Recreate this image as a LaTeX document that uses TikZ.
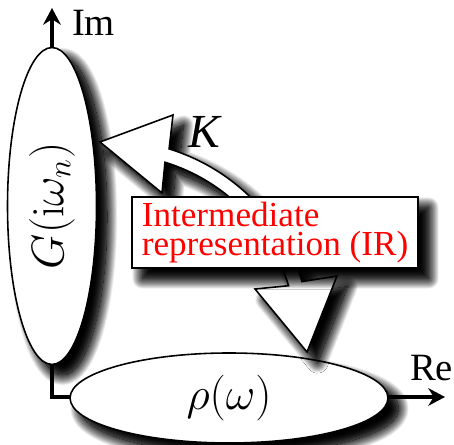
\RequirePackage{fix-cm}
\documentclass[tikz,border=0pt]{standalone}
\usepackage[no-math]{fontspec}
\setmainfont{Liberation Serif}
\usetikzlibrary{arrows.meta, calc, shapes.geometric, shadows.blur}
\tikzset{
    % Soft drop shadow used by every white shape (two layers for a darker core)
    soft shadow/.style={
        blur shadow={shadow xshift=7pt, shadow yshift=-7pt,
            shadow blur radius=8pt, shadow blur steps=40, shadow opacity=100},
        blur shadow={shadow xshift=6pt, shadow yshift=-6pt,
            shadow blur radius=6pt, shadow blur steps=30, shadow opacity=100}},
    % Function domains - white ellipses
    domain oval/.style={ellipse, draw=black, line width=0.9pt, fill=white, soft shadow,
        inner sep=0pt, font=\fontsize{26}{30}\selectfont},
    % Axes of the complex plane
    axis/.style={line width=2pt, line join=miter, {Stealth[length=9.5pt, width=10pt]}-{Stealth[length=9.5pt, width=10pt]}},
    % Axis labels
    axis label/.style={inner sep=0pt, font=\fontsize{22}{26}\selectfont},
    % Big curved transformation arrow
    big arrow/.style={draw=black, line width=0.9pt, line join=miter, fill=white, soft shadow},
    % IR box
    ir box/.style={rectangle, draw=black, line width=0.9pt, fill=white, soft shadow,
        minimum width=5.72cm, minimum height=1.42cm, inner sep=0pt, align=left,
        text=red, font=\fontsize{20}{17}\selectfont}
}

\begin{document}
\begin{tikzpicture}[x=0.02cm, y=0.02cm]
    \useasboundingbox (0,0) rectangle (454,445);

    % --- Axes ---
    \coordinate (O) at (52,48);
    \coordinate (ImEnd) at (52,437);
    \coordinate (ReEnd) at (445,48);
    \draw[axis] (ImEnd) -- (O) -- (ReEnd);
    \node[axis label] (Im) at (93.5,422.5) {Im};
    \node[axis label] (Re) at (431.5,76.5) {Re};

    % --- Domains ---
    \node[domain oval, minimum width=1.78cm, minimum height=6.34cm] (G) at (52,239)
        {\rotatebox{90}{$G(\mathrm{i}\omega_n)$}};
    \node[domain oval, minimum width=6.36cm, minimum height=1.8cm] (rho) at (229,47)
        {$\rho(\omega)$};

    % --- Curved double arrow ---
    \coordinate (C) at (110,104);
    \coordinate (T1) at (100,303);
    \coordinate (H1a) at (173,330);
    \coordinate (H1b) at (162,252);
    \coordinate (T2) at (307,93);
    \coordinate (H2a) at (337,169);
    \coordinate (H2b) at (255,156);
    \path[big arrow] ($(C)+(72.9:201)$) arc[start angle=72.9, end angle=17.2, radius=201]
        -- (H2a) -- (T2) -- (H2b)
        -- ($(C)+(17.2:187)$) arc[start angle=17.2, end angle=72.9, radius=187]
        -- (H1b) -- (T1) -- (H1a) -- cycle;
    \node[inner sep=0pt, font=\fontsize{27}{30}\selectfont\itshape] (K) at (204,313.5) {K};

    % --- Intermediate representation ---
    \node[ir box] (IR) at (275,212.5) {Intermediate\\representation (IR)};

\end{tikzpicture}
\end{document}
